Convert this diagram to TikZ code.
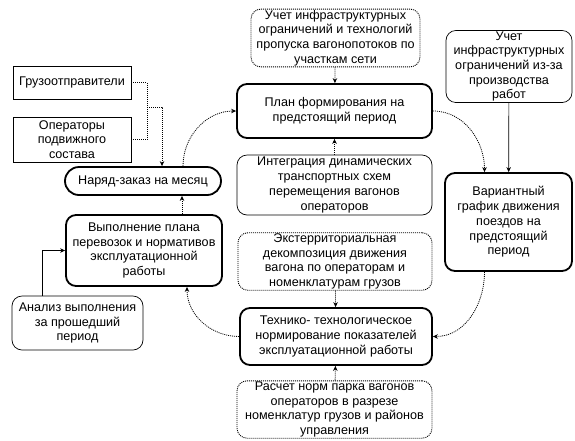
\documentclass[tikz,border=0pt]{standalone}
\usepackage{fontspec}
\setmainfont{Liberation Sans}
\usetikzlibrary{arrows.meta, calc}

\begin{document}
\begin{tikzpicture}[
  x=1pt, y=-1pt,
  font=\fontsize{12.6}{14.7}\selectfont,
  box/.style    = {draw, rounded corners=10pt, align=center, inner sep=1pt},
  main/.style   = {box, line width=1.8pt},
  plain/.style  = {box, line width=0.7pt},
  dots/.style   = {box, line width=0.9pt, dash pattern=on 1pt off 1pt},
  src/.style    = {draw, line width=0.7pt, align=center, inner sep=1pt},
  link/.style   = {-{Stealth[length=5pt, width=4.5pt]}, line width=0.8pt,
                   dash pattern=on 1pt off 1pt},
  solidlink/.style = {-{Stealth[length=5pt, width=4.5pt]}, line width=0.7pt},
]
\useasboundingbox (0,0) rectangle (575,440);

% ---- central column
\node[dots, minimum width=169pt, minimum height=52pt] (infra) at (335.5,38)
  {Учет инфраструктурных\\ограничений и технологий\\пропуска вагонопотоков по\\участкам сети};
\node[main, minimum width=195pt, minimum height=54pt] (plan) at (334.5,111)
  {План формирования на\\предстоящий период};
\node[plain, minimum width=195pt, minimum height=60pt] (integ) at (334.5,185)
  {Интеграция динамических\\транспортных схем\\перемещения вагонов\\операторов};
\node[dots, minimum width=194pt, minimum height=57pt] (decomp) at (335,261.5)
  {Экстерриториальная\\декомпозиция движения\\вагона по операторам и\\номенклатурам грузов};
\node[main, minimum width=192pt, minimum height=57pt] (norm) at (336,336.5)
  {Технико- технологическое\\нормирование показателей\\эксплуатационной работы};
\node[dots, minimum width=195pt, minimum height=55pt] (fleet) at (334.5,409.5)
  {Расчет норм парка вагонов\\операторов в разрезе\\номенклатур грузов и районов\\управления};

% ---- right column
\node[plain, minimum width=126pt, minimum height=67pt] (works) at (509,66.5)
  {Учет\\инфраструктурных\\ограничений из-за\\производства\\работ};
\node[main, minimum width=127pt, minimum height=98pt] (sched) at (508.5,222)
  {Вариантный\\график движения\\поездов на\\предстоящий\\период};

% ---- left column
\node[src, minimum width=118pt, minimum height=33pt] (shipper) at (72,82.5)
  {Грузоотправители};
\node[src, minimum width=118pt, minimum height=45pt] (owner) at (72,139.5)
  {Операторы\\подвижного\\состава};
\node[main, rounded corners=14pt, minimum width=156pt, minimum height=28pt]
  (order) at (143,181) {Наряд-заказ на месяц};
\node[main, minimum width=156pt, minimum height=71pt] (exec) at (144,250.5)
  {Выполнение плана\\перевозок и нормативов\\эксплуатационной\\работы};
\node[plain, minimum width=131pt, minimum height=54pt] (review) at (77.5,323)
  {Анализ выполнения\\за прошедший\\период};

% ---- inputs into the central column
\draw[link] (infra) -- (plan);
\draw[link] (integ) -- (plan);
\draw[link] (decomp) -- (norm);
\draw[link] (fleet) -- (norm);
\draw[solidlink] (works) -- (sched);

% ---- the planning cycle
\draw[link] (plan.east) to[out=0, in=90] ([xshift=-24pt]sched.north);
\draw[link] ([xshift=-24pt]sched.south) to[out=-90, in=0] (norm.east);
\draw[link] (norm.west) to[out=180, in=-90] ([xshift=43pt]exec.south);
\draw[link] ([xshift=38pt]exec.north) -- ([xshift=38pt]exec.north |- order.south);
\draw[link] ([xshift=40pt]order.north) to[out=90, in=180] (plan.west);

% ---- requests and analysis
\coordinate (join) at (147,107);
\draw[link, -] (shipper.east) -| (join) |- (owner.east);
\draw[link] (join) -| ([xshift=19pt]order.north);
\draw[solidlink] ([xshift=-35pt]review.north) |- (exec.west);

\end{tikzpicture}
\end{document}
